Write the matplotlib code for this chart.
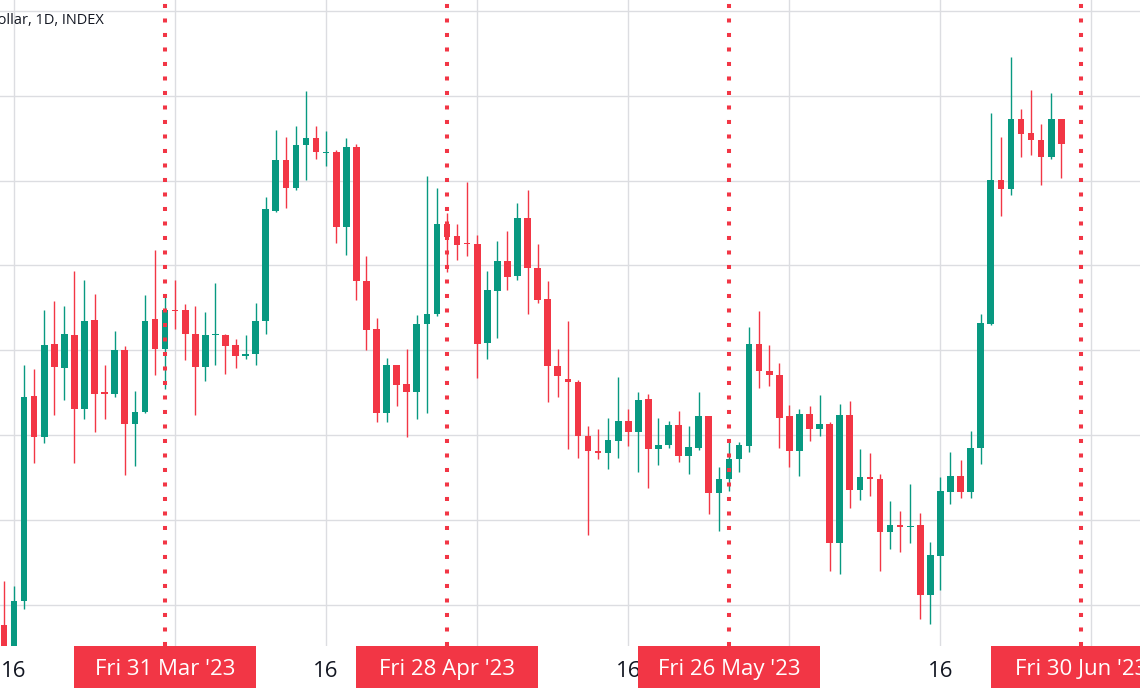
import matplotlib
matplotlib.use('Agg')
import matplotlib.pyplot as plt
import matplotlib.dates as mdates
import matplotlib.transforms as mtransforms
from matplotlib.patches import Rectangle
import pandas as pd

plt.rcParams['font.family'] = ['Open Sans', 'DejaVu Sans']

# daily candles, 15 Mar 2023 .. 28 Jun 2023 (one per calendar day)
dates = pd.date_range('2023-03-15', '2023-06-28', freq='D')

opens = [24755, 24380, 25039, 27463, 26974, 28074, 27795, 28184, 27310, 28354,
         27507, 27485, 28000, 27127, 27271, 28363, 28009, 28472, 28472, 28197,
         27804, 28175, 28184, 28066, 27935, 27956, 28341, 29646, 30249, 29909,
         30415, 30502, 30328, 30336, 29450, 30402, 28821, 28249, 27258, 27825,
         27598, 27511, 28315, 28433, 29494, 29345, 29267, 29258, 28087, 28699,
         29057, 28873, 29559, 28970, 28603, 27812, 27660, 27620, 26987, 26812,
         26786, 26930, 27170, 27039, 27419, 26830, 26887, 27114, 26747, 26843,
         27227, 26319, 26480, 26712, 26873, 28079, 27760, 27708, 27227, 26812,
         27249, 27074, 27127, 25729, 27236, 26349, 26507, 26485, 25852, 25935,
         25913, 25935, 25118, 25576, 26332, 26515, 26332, 26843, 28315, 30009,
         29900, 30721, 30563, 30480, 30284, 30721]
highs = [25284, 25218, 27821, 27782, 28476, 28577, 28524, 28930, 28825, 28668,
         27825, 28227, 28053, 27520, 28651, 29184, 28659, 28825, 28542, 28524,
         28446, 28790, 28197, 28131, 28175, 28555, 29804, 30598, 30520, 30642,
         31057, 30642, 30585, 30359, 30502, 30432, 29114, 28380, 27913, 27825,
         28009, 28415, 30053, 29909, 29616, 29485, 29987, 29363, 28930, 29288,
         29406, 29734, 29891, 29258, 28821, 28009, 28350, 27651, 27105, 27070,
         27205, 27681, 27310, 27507, 27485, 27201, 27162, 27280, 27105, 27507,
         27227, 26625, 26952, 26917, 28275, 28468, 28066, 27847, 27354, 27310,
         27345, 27476, 27149, 27367, 27402, 26830, 26790, 26537, 26223, 26100,
         26428, 26079, 25742, 26507, 26799, 26703, 27048, 28424, 30795, 30520,
         31455, 30839, 31066, 30673, 31035, 30729]
lows = [23900, 24130, 24952, 26668, 26908, 27236, 27411, 26668, 27192, 27039,
        27184, 27454, 26528, 26633, 27258, 27703, 27542, 28249, 27882, 27236,
        27638, 27825, 27716, 27795, 27900, 27825, 28188, 29629, 29681, 29891,
        30009, 30258, 30170, 29267, 29122, 28598, 28000, 27149, 27149, 27345,
        26974, 27192, 27258, 28406, 28917, 29061, 29114, 27673, 27900, 28144,
        28708, 28830, 28424, 28559, 27389, 27446, 26830, 26734, 25825, 26712,
        26603, 26734, 26865, 26568, 26376, 26646, 26852, 26681, 26537, 26821,
        26070, 25873, 26341, 26568, 26799, 27550, 27577, 26852, 26625, 26515,
        26930, 26983, 25402, 25358, 26144, 26231, 26284, 25402, 25655, 25620,
        25729, 24825, 24769, 25175, 26188, 26262, 26262, 26659, 28293, 29585,
        29834, 30284, 30301, 29943, 30258, 30031]
closes = [24380, 25044, 27454, 26974, 28066, 27804, 28197, 27310, 28345, 27489,
          27485, 28000, 27127, 27271, 28350, 28009, 28472, 28463, 28192, 27804,
          28184, 28184, 28044, 27935, 27956, 28341, 29660, 30249, 29913, 30415,
          30502, 30336, 30336, 29450, 30402, 28821, 28240, 27258, 27825, 27594,
          27511, 28315, 28433, 29494, 29332, 29245, 29254, 28074, 28708, 29057,
          28860, 29559, 28970, 28590, 27812, 27694, 27629, 26987, 26812, 26790,
          26939, 27170, 27031, 27411, 26830, 26887, 27114, 26747, 26856, 27227,
          26319, 26485, 26721, 26878, 28079, 27751, 27703, 27205, 26812, 27249,
          27074, 27127, 25729, 27236, 26349, 26507, 26485, 25852, 25935, 25913,
          25926, 25118, 25585, 26341, 26515, 26332, 26843, 28319, 30009, 29900,
          30721, 30555, 30476, 30284, 30721, 30432]

grid_prices = [25000, 26000, 27000, 28000, 29000, 30000, 31000, 32000]
grid_dates = ['2023-03-16', '2023-04-01', '2023-04-16', '2023-05-01',
              '2023-05-16', '2023-06-01', '2023-06-16', '2023-07-01']
label_dates = ['2023-03-16', '2023-04-16', '2023-05-16', '2023-06-16']
label_texts = ['16', '16', '16', '16']
marked_dates = ['2023-03-31', '2023-04-28', '2023-05-26', '2023-06-30']
marked_labels = ["Fri 31 Mar '23", "Fri 28 Apr '23", "Fri 26 May '23", "Fri 30 Jun '23"]

UP = '#089981'
DOWN = '#F23645'
GRID = '#dcdde1'
TEXT = '#131722'

fig = plt.figure(figsize=(11.4, 6.94), dpi=100)
ax = fig.add_axes([0, 48 / 694, 1, 646 / 694])

x = mdates.date2num(dates)
colors = [UP if c >= o else DOWN for o, c in zip(opens, closes)]
bottoms = [min(o, c) for o, c in zip(opens, closes)]
heights = [max(abs(c - o), 14) for o, c in zip(opens, closes)]

for p in grid_prices:
    ax.axhline(p, color=GRID, lw=1, zorder=0)
for gx in mdates.date2num(pd.to_datetime(grid_dates)):
    ax.axvline(gx, color=GRID, lw=1, zorder=0)

ax.vlines(x, lows, highs, colors=colors, lw=1, zorder=2)
ax.bar(x, heights, bottom=bottoms, width=0.66, color=colors, linewidth=0, zorder=3)

first = mdates.date2num(pd.Timestamp('2023-03-16'))
ax.set_xlim(first - 1.39, first + 111.82)
ax.set_ylim(24512, 32130)
ax.set_xticks([])
ax.set_yticks([])
for s in ax.spines.values():
    s.set_visible(False)

trans = mtransforms.blended_transform_factory(ax.transData, ax.transAxes)
for tx, lab in zip(mdates.date2num(pd.to_datetime(label_dates)), label_texts):
    ax.text(tx, -0.040, lab, transform=trans, ha='center', va='center',
            fontsize=16, color=TEXT, clip_on=False, zorder=5)

mark_x = mdates.date2num(pd.to_datetime(marked_dates))
for mx, lab in zip(mark_x, marked_labels):
    ax.axvline(mx, color=DOWN, lw=2.9, linestyle=(0, (1, 2.6)), zorder=4)
    ax.add_patch(Rectangle((mx - 9, -0.065), 18, 0.065, transform=trans,
                           facecolor=DOWN, edgecolor='none', clip_on=False, zorder=6))
    ax.text(mx, -0.036, lab, transform=trans, ha='center', va='center',
            fontsize=16, color='white', clip_on=False, zorder=7)

fig.text(104 / 1140, 1 - 20 / 694, 'Dollar, 1D, INDEX', ha='right', va='center',
         fontsize=10.5, color=TEXT)

fig.savefig('out.png', dpi=100)
